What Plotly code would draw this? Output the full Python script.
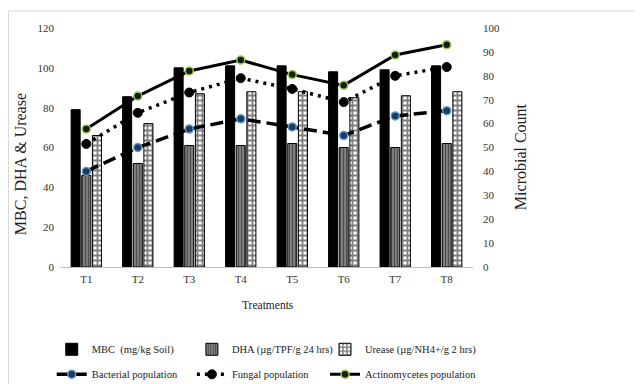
import plotly.graph_objects as go

treatments = ["T1", "T2", "T3", "T4", "T5", "T6", "T7", "T8"]
mbc = [79, 85.5, 100, 101, 101, 98, 99, 101]
dha = [46, 52, 61, 61, 62, 60, 60, 62]
urease = [66, 72, 87, 88, 88, 85, 86, 88]
bacterial = [40, 50, 57.7, 62, 58.6, 55, 63.2, 65.4]
fungal = [51.5, 64.5, 73, 79, 74.5, 69, 80, 83.7]
actino = [57.7, 71.5, 82, 86.6, 80.5, 76, 88.7, 93]

FONT = "Liberation Serif, Times New Roman, serif"

fig = go.Figure()
fig.add_trace(go.Bar(x=treatments, y=mbc, name="MBC  (mg/kg Soil)", legend="legend",
                     legendgroup="a",
                     marker=dict(color="black", line=dict(color="black", width=1))))
fig.add_trace(go.Bar(x=treatments, y=dha, name="DHA (µg/TPF/g 24 hrs)", legend="legend2",
                     legendgroup="b",
                     marker=dict(color="white", line=dict(color="black", width=1),
                                 pattern=dict(shape="|", fgcolor="#111111", bgcolor="#8c8c8c",
                                              size=3, solidity=0.5, fillmode="overlay"))))
fig.add_trace(go.Bar(x=treatments, y=urease, name="Urease (µg/NH4+/g 2 hrs)", legend="legend3",
                     legendgroup="c",
                     marker=dict(color="white", line=dict(color="black", width=1),
                                 pattern=dict(shape="+", fgcolor="black", bgcolor="white",
                                              size=5, solidity=0.6, fillmode="overlay"))))
fig.add_trace(go.Scatter(x=treatments, y=bacterial, name="Bacterial population", yaxis="y2",
                         legend="legend", legendgroup="d",
                         mode="lines+markers",
                         line=dict(color="black", width=3.5, dash="13px,6px"),
                         marker=dict(symbol="circle", size=8, color="#1f3b5a",
                                     line=dict(color="#5b9bd5", width=1.5))))
fig.add_trace(go.Scatter(x=treatments, y=fungal, name="Fungal population", yaxis="y2",
                         legend="legend2", legendgroup="e",
                         mode="lines+markers",
                         line=dict(color="black", width=3.5, dash="3px,5px"),
                         marker=dict(symbol="circle", size=9, color="black",
                                     line=dict(color="black", width=1))))
fig.add_trace(go.Scatter(x=treatments, y=actino, name="Actinomycetes population", yaxis="y2",
                         legend="legend3", legendgroup="f",
                         mode="lines+markers",
                         line=dict(color="black", width=3),
                         marker=dict(symbol="circle", size=8, color="#1a1a1a",
                                     line=dict(color="#92d050", width=1.5))))

leg_common = dict(orientation="v", xref="container", yref="container", y=0.149,
                  yanchor="top", xanchor="left", tracegroupgap=6, itemwidth=30,
                  font=dict(family=FONT, size=10.5, color="#222222"), bgcolor="rgba(0,0,0,0)")

fig.update_layout(
    width=643, height=384,
    margin=dict(l=52, r=178, t=20, b=125, autoexpand=False),
    paper_bgcolor="white", plot_bgcolor="white",
    font=dict(family=FONT, size=11, color="#333333"),
    barmode="group", bargap=0.38, bargroupgap=0.15,
    showlegend=True,
    legend=dict(x=0.068, **leg_common),
    legend2=dict(x=0.286, **leg_common),
    legend3=dict(x=0.493, **leg_common),
    xaxis=dict(showgrid=False, showline=True, linecolor="#bfbfbf", linewidth=1,
               ticks="", ticklabelstandoff=2,
               tickfont=dict(family=FONT, size=11, color="#333333")),
    yaxis=dict(range=[0, 120], dtick=20, showgrid=False, zeroline=False, showline=False,
               ticks="", ticklabelstandoff=5,
               tickfont=dict(family=FONT, size=11, color="#333333")),
    yaxis2=dict(range=[0, 100], dtick=10, overlaying="y", side="right", showgrid=False,
                zeroline=False, showline=False, ticks="", ticklabelstandoff=9,
                tickfont=dict(family=FONT, size=11, color="#333333")),
    annotations=[
        dict(text="MBC, DHA & Urease", xref="paper", yref="paper", x=-0.097, y=0.43,
             textangle=-90, showarrow=False, xanchor="center", yanchor="middle",
             font=dict(family=FONT, size=16, color="#222222")),
        dict(text="Microbial Count", xref="paper", yref="paper", x=1.114, y=0.46,
             textangle=-90, showarrow=False, xanchor="center", yanchor="middle",
             font=dict(family=FONT, size=16, color="#222222")),
        dict(text="Treatments", xref="paper", yref="paper", x=0.504, y=-0.159,
             showarrow=False, xanchor="center", yanchor="middle",
             font=dict(family=FONT, size=11.5, color="#222222")),
    ],
)

fig.add_shape(type="rect", xref="paper", yref="paper", x0=-0.1247, x1=1.5, y0=-0.6, y1=1.071,
              line=dict(color="#d9d9d9", width=1), fillcolor="rgba(0,0,0,0)", layer="below")

fig.write_html("out.html")
